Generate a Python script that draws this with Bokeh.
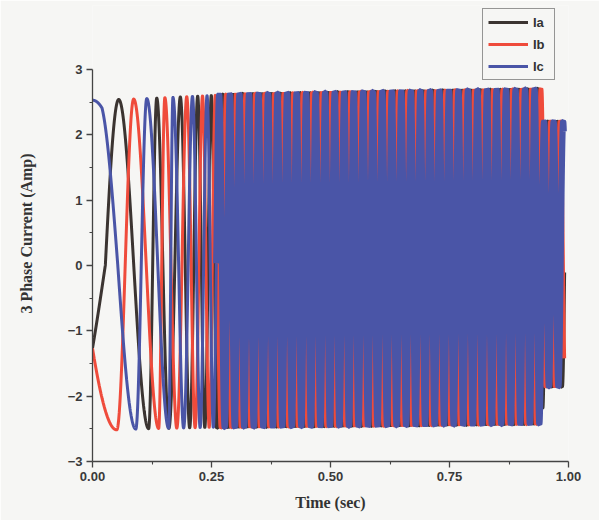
import numpy as np
from bokeh.plotting import figure
from bokeh.models import Legend, LegendItem, FixedTicker, NumeralTickFormatter
from bokeh.embed import file_html
from bokeh.resources import INLINE

# ---- values ----
phase_labels = ["Ia", "Ib", "Ic"]
phase_colors = ["#3b3431", "#ef4b3b", "#4a55a7"]
phase_shift_cycles = [0.0, 1.0 / 3.0, 2.0 / 3.0]

# start-up transient of each phase: times (s) of its observed extrema,
# given as half-cycle index (even = peak, odd = trough)
ia_t = [0.0, 0.027, 0.055, 0.118, 0.135]
ia_half = [1.333, 1.5, 2.0, 3.0, 4.0]
ib_t = [0.0, 0.051, 0.0865, 0.139, 0.152]
ib_half = [0.667, 1.0, 2.0, 3.0, 4.0]
ic_t = [0.0, 0.020, 0.053, 0.091, 0.114, 0.160, 0.169]
ic_half = [0.0, 0.1, 0.5, 1.0, 2.0, 3.0, 4.0]

# common electrical cycle count once the phases are settled
common_t = [0.135, 0.152, 0.169]
common_cycles = [2.0, 2.333, 2.667]

# supply frequency after the transient (Hz)
freq_t = [0.169, 0.30, 0.99]
freq_hz = [19.6, 50.0, 50.0]

# upper / lower envelope of the currents (Amp)
env_t = [0.0, 0.10, 0.30, 0.60, 0.944, 0.946, 0.99]
env_upper = [2.53, 2.55, 2.62, 2.66, 2.70, 2.20, 2.20]
env_lower = [-2.53, -2.50, -2.47, -2.45, -2.42, -1.85, -1.85]

x_ticks = [0.0, 0.25, 0.50, 0.75, 1.00]
x_minor = [0.125, 0.375, 0.625, 0.875]
y_ticks = [-3, -2, -1, 0, 1, 2, 3]
y_minor = [-2.5, -1.5, -0.5, 0.5, 1.5, 2.5]

# ---- build waveforms ----
t = np.linspace(0.0, 0.99, 14000)
cycles = np.interp(t, common_t, common_cycles)
late = t > common_t[-1]
f = np.interp(t, freq_t, freq_hz)
dt = np.diff(t, prepend=t[0])
acc = np.cumsum(np.where(late, f * dt, 0.0))
cycles = np.where(late, common_cycles[-1] + acc, cycles)

up = np.interp(t, env_t, env_upper)
lo = np.interp(t, env_t, env_lower)
mid = (up + lo) / 2.0
half = (up - lo) / 2.0

p = figure(width=599, height=520, x_range=(0.0, 1.0), y_range=(-3.0, 3.98),
           output_backend="svg", toolbar_location=None,
           min_border_left=92, min_border_right=31,
           min_border_top=5, min_border_bottom=59)
p.background_fill_color = "#f6f6f4"
p.border_fill_color = "#f6f6f4"
p.outline_line_color = None
p.xgrid.visible = False
p.ygrid.visible = False

split = np.searchsorted(t, 0.26)
late_widths = [4.8, 4.8, 6.2]
items = []
transients = [(ia_t, ia_half), (ib_t, ib_half), (ic_t, ic_half)]
for lab, col, sh, (kt, kh), lw in zip(phase_labels, phase_colors,
                                      phase_shift_cycles, transients,
                                      late_widths):
    h_common = 2.0 * (cycles - sh)
    h_early = np.interp(t, kt, kh)
    h = np.where(t <= kt[-1], h_early, h_common)
    y = mid + half * np.cos(np.pi * h)
    r = p.line(t[:split + 1], y[:split + 1], line_color=col, line_width=3.0)
    items.append(LegendItem(label=lab, renderers=[r]))
    p.line(t[split:], y[split:], line_color=col, line_width=lw)

legend = Legend(items=items, location=(390, 381))
legend.background_fill_color = "#f6f6f4"
legend.background_fill_alpha = 1.0
legend.border_line_color = "#333333"
legend.border_line_width = 1.2
legend.glyph_width = 40
legend.glyph_height = 16
legend.label_height = 16
legend.label_width = 16
legend.spacing = 6
legend.padding = 5
legend.margin = 0
legend.label_standoff = 5
legend.label_text_font = "Liberation Sans"
legend.label_text_font_style = "bold"
legend.label_text_font_size = "13px"
legend.label_text_color = "#333333"
p.add_layout(legend, "center")

for ax in (p.xaxis[0], p.yaxis[0]):
    ax.axis_line_color = "#444444"
    ax.axis_line_width = 1.3
    ax.major_tick_line_color = "#444444"
    ax.minor_tick_line_color = "#444444"
    ax.major_tick_line_width = 1.3
    ax.minor_tick_line_width = 1.1
    ax.major_tick_out = 6
    ax.major_tick_in = 0
    ax.minor_tick_out = 3
    ax.minor_tick_in = 0
    ax.major_label_text_font = "Liberation Sans"
    ax.major_label_text_font_style = "bold"
    ax.major_label_text_font_size = "13px"
    ax.major_label_text_color = "#3a3a3a"
    ax.axis_label_text_font = "Liberation Serif"
    ax.axis_label_text_font_style = "bold"
    ax.axis_label_text_font_size = "16px"
    ax.axis_label_text_color = "#333333"

p.yaxis.bounds = (-3, 3)
p.xaxis.ticker = FixedTicker(ticks=x_ticks, minor_ticks=x_minor)
p.xaxis.formatter = NumeralTickFormatter(format="0.00")
p.yaxis.ticker = FixedTicker(ticks=y_ticks, minor_ticks=y_minor)
p.xaxis.axis_label = "Time (sec)"
p.yaxis.axis_label = "3 Phase Current (Amp)"
p.xaxis.axis_label_standoff = 10
p.yaxis.axis_label_standoff = 30
p.xaxis.major_label_standoff = 4
p.yaxis.major_label_standoff = 4

open("out.html", "w").write(file_html(p, INLINE))
